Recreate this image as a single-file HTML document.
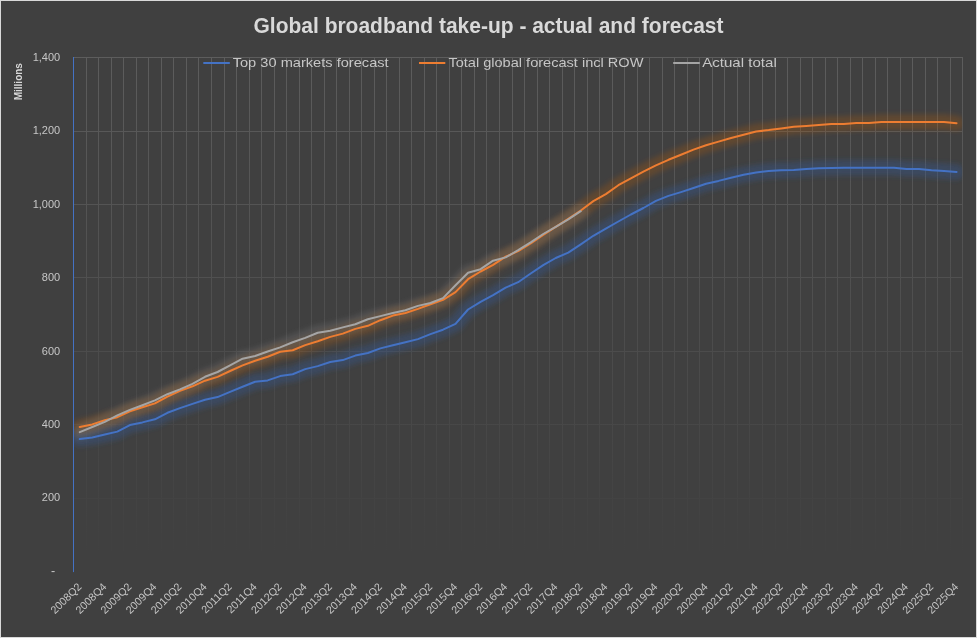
<!DOCTYPE html>
<html lang="en"><head><meta charset="utf-8"><title>Global broadband take-up - actual and forecast</title>
<style>html,body{margin:0;padding:0;background:#404040;overflow:hidden}svg{display:block}text{font-family:"Liberation Sans",sans-serif}</style></head><body>
<svg width="977" height="638" viewBox="0 0 977 638">
<defs>
<linearGradient id="gg" gradientUnits="userSpaceOnUse" x1="0" y1="57.0" x2="0" y2="559.5"><stop offset="0" stop-color="#fff" stop-opacity="0.15"/><stop offset="1" stop-color="#fff" stop-opacity="0"/></linearGradient>
<filter id="blur" x="-5%" y="-20%" width="110%" height="140%" filterUnits="objectBoundingBox"><feGaussianBlur stdDeviation="2.8"/></filter>
<clipPath id="plot"><rect x="74.0" y="37.5" width="888.3" height="534.0"/></clipPath>
</defs>
<rect width="977" height="638" fill="#404040"/>
<rect x="0.5" y="0.5" width="976" height="637" fill="none" stroke="#d9d9d9" stroke-width="1"/>
<path d="M86.5 57.0V571.5M98.5 57.0V571.5M111.5 57.0V571.5M123.5 57.0V571.5M136.5 57.0V571.5M148.5 57.0V571.5M161.5 57.0V571.5M173.5 57.0V571.5M186.5 57.0V571.5M198.5 57.0V571.5M211.5 57.0V571.5M224.5 57.0V571.5M236.5 57.0V571.5M249.5 57.0V571.5M261.5 57.0V571.5M274.5 57.0V571.5M286.5 57.0V571.5M299.5 57.0V571.5M311.5 57.0V571.5M324.5 57.0V571.5M336.5 57.0V571.5M349.5 57.0V571.5M361.5 57.0V571.5M374.5 57.0V571.5M386.5 57.0V571.5M399.5 57.0V571.5M411.5 57.0V571.5M424.5 57.0V571.5M436.5 57.0V571.5M449.5 57.0V571.5M461.5 57.0V571.5M474.5 57.0V571.5M486.5 57.0V571.5M499.5 57.0V571.5M512.5 57.0V571.5M524.5 57.0V571.5M537.5 57.0V571.5M549.5 57.0V571.5M562.5 57.0V571.5M574.5 57.0V571.5M587.5 57.0V571.5M599.5 57.0V571.5M612.5 57.0V571.5M624.5 57.0V571.5M637.5 57.0V571.5M649.5 57.0V571.5M662.5 57.0V571.5M674.5 57.0V571.5M687.5 57.0V571.5M699.5 57.0V571.5M712.5 57.0V571.5M724.5 57.0V571.5M737.5 57.0V571.5M749.5 57.0V571.5M762.5 57.0V571.5M775.5 57.0V571.5M787.5 57.0V571.5M800.5 57.0V571.5M812.5 57.0V571.5M825.5 57.0V571.5M837.5 57.0V571.5M850.5 57.0V571.5M862.5 57.0V571.5M875.5 57.0V571.5M887.5 57.0V571.5M900.5 57.0V571.5M912.5 57.0V571.5M925.5 57.0V571.5M937.5 57.0V571.5M950.5 57.0V571.5M962.5 57.0V571.5M74.0 57.5H963.0M74.0 131.5H963.0M74.0 204.5H963.0M74.0 277.5H963.0M74.0 351.5H963.0M74.0 424.5H963.0M74.0 498.5H963.0M74.0 571.5H963.0" stroke="url(#gg)" stroke-width="1" fill="none" shape-rendering="crispEdges"/>
<line x1="73.5" y1="57.0" x2="73.5" y2="572.1" stroke="#4472c4" stroke-width="1"/>
<g clip-path="url(#plot)" fill="none" stroke-linejoin="round" stroke-linecap="round">
<polyline points="79.76,439.00 92.29,437.40 104.81,434.60 117.34,431.60 129.86,425.10 142.39,422.40 154.92,419.30 167.44,412.80 179.97,408.10 192.49,403.90 205.02,399.80 217.54,397.10 230.07,391.80 242.59,386.80 255.12,381.80 267.65,380.40 280.17,376.10 292.70,374.20 305.22,369.10 317.75,366.10 330.27,362.00 342.80,360.10 355.32,355.60 367.85,353.00 380.37,348.40 392.90,345.30 405.43,342.20 417.95,339.10 430.48,334.10 443.00,329.70 455.53,323.90 468.05,309.50 480.58,301.80 493.10,295.10 505.63,287.70 518.16,282.20 530.68,273.50 543.21,265.20 555.73,258.00 568.26,252.60 580.78,244.40 593.31,235.80 605.83,228.70 618.36,221.50 630.88,214.50 643.41,208.00 655.94,200.90 668.46,195.90 680.99,192.10 693.51,188.00 706.04,183.70 718.56,180.90 731.09,177.80 743.61,174.80 756.14,172.60 768.67,170.90 781.19,170.20 793.72,170.05 806.24,169.05 818.77,168.20 831.29,167.90 843.82,167.80 856.34,167.80 868.87,167.80 881.39,167.80 893.92,167.80 906.45,169.05 918.97,169.05 931.50,170.20 944.02,171.05 956.55,171.90" stroke="#2f5597" stroke-width="15.5" stroke-opacity="0.36" filter="url(#blur)"/>
<polyline points="79.76,426.97 92.29,424.40 104.81,420.30 117.34,417.20 129.86,411.30 142.39,407.20 154.92,403.40 167.44,396.60 179.97,390.90 192.49,386.30 205.02,380.70 217.54,376.90 230.07,371.00 242.59,365.40 255.12,360.80 267.65,356.80 280.17,351.70 292.70,350.20 305.22,345.10 317.75,341.30 330.27,336.90 342.80,333.60 355.32,328.90 367.85,325.80 380.37,320.20 392.90,315.60 405.43,313.00 417.95,308.90 430.48,304.30 443.00,299.80 455.53,292.10 468.05,279.20 480.58,271.50 493.10,264.80 505.63,256.70 518.16,251.20 530.68,243.30 543.21,234.80 555.73,226.80 568.26,218.80 580.78,210.50 593.31,201.10 605.83,194.10 618.36,185.20 630.88,178.30 643.41,171.60 655.94,165.40 668.46,159.80 680.99,154.70 693.51,149.60 706.04,145.30 718.56,141.60 731.09,138.00 743.61,134.80 756.14,131.50 768.67,130.10 781.19,128.40 793.72,126.80 806.24,125.90 818.77,125.10 831.29,124.10 843.82,123.90 856.34,123.05 868.87,122.90 881.39,122.05 893.92,121.90 906.45,121.90 918.97,121.90 931.50,121.90 944.02,121.90 956.55,123.20" stroke="#c55a11" stroke-width="15.5" stroke-opacity="0.24" filter="url(#blur)"/>
<polyline points="79.76,432.10 92.29,427.00 104.81,421.80 117.34,415.40 129.86,409.90 142.39,405.30 154.92,400.40 167.44,394.20 179.97,389.40 192.49,383.80 205.02,376.80 217.54,372.00 230.07,365.40 242.59,358.70 255.12,356.00 267.65,351.50 280.17,347.40 292.70,342.30 305.22,337.90 317.75,332.80 330.27,330.70 342.80,327.40 355.32,324.30 367.85,319.20 380.37,316.10 392.90,313.00 405.43,310.30 417.95,305.90 430.48,303.00 443.00,298.10 455.53,285.30 468.05,272.70 480.58,269.20 493.10,260.70 505.63,257.40 518.16,250.20 530.68,242.30 543.21,234.00 555.73,226.80 568.26,219.40 580.78,211.20" stroke="#8a8a8a" stroke-width="15.5" stroke-opacity="0.24" filter="url(#blur)"/>
<polyline points="79.76,439.00 92.29,437.40 104.81,434.60 117.34,431.60 129.86,425.10 142.39,422.40 154.92,419.30 167.44,412.80 179.97,408.10 192.49,403.90 205.02,399.80 217.54,397.10 230.07,391.80 242.59,386.80 255.12,381.80 267.65,380.40 280.17,376.10 292.70,374.20 305.22,369.10 317.75,366.10 330.27,362.00 342.80,360.10 355.32,355.60 367.85,353.00 380.37,348.40 392.90,345.30 405.43,342.20 417.95,339.10 430.48,334.10 443.00,329.70 455.53,323.90 468.05,309.50 480.58,301.80 493.10,295.10 505.63,287.70 518.16,282.20 530.68,273.50 543.21,265.20 555.73,258.00 568.26,252.60 580.78,244.40 593.31,235.80 605.83,228.70 618.36,221.50 630.88,214.50 643.41,208.00 655.94,200.90 668.46,195.90 680.99,192.10 693.51,188.00 706.04,183.70 718.56,180.90 731.09,177.80 743.61,174.80 756.14,172.60 768.67,170.90 781.19,170.20 793.72,170.05 806.24,169.05 818.77,168.20 831.29,167.90 843.82,167.80 856.34,167.80 868.87,167.80 881.39,167.80 893.92,167.80 906.45,169.05 918.97,169.05 931.50,170.20 944.02,171.05 956.55,171.90" stroke="#4472c4" stroke-width="2"/>
<polyline points="79.76,426.97 92.29,424.40 104.81,420.30 117.34,417.20 129.86,411.30 142.39,407.20 154.92,403.40 167.44,396.60 179.97,390.90 192.49,386.30 205.02,380.70 217.54,376.90 230.07,371.00 242.59,365.40 255.12,360.80 267.65,356.80 280.17,351.70 292.70,350.20 305.22,345.10 317.75,341.30 330.27,336.90 342.80,333.60 355.32,328.90 367.85,325.80 380.37,320.20 392.90,315.60 405.43,313.00 417.95,308.90 430.48,304.30 443.00,299.80 455.53,292.10 468.05,279.20 480.58,271.50 493.10,264.80 505.63,256.70 518.16,251.20 530.68,243.30 543.21,234.80 555.73,226.80 568.26,218.80 580.78,210.50 593.31,201.10 605.83,194.10 618.36,185.20 630.88,178.30 643.41,171.60 655.94,165.40 668.46,159.80 680.99,154.70 693.51,149.60 706.04,145.30 718.56,141.60 731.09,138.00 743.61,134.80 756.14,131.50 768.67,130.10 781.19,128.40 793.72,126.80 806.24,125.90 818.77,125.10 831.29,124.10 843.82,123.90 856.34,123.05 868.87,122.90 881.39,122.05 893.92,121.90 906.45,121.90 918.97,121.90 931.50,121.90 944.02,121.90 956.55,123.20" stroke="#ed7d31" stroke-width="2"/>
<polyline points="79.76,432.10 92.29,427.00 104.81,421.80 117.34,415.40 129.86,409.90 142.39,405.30 154.92,400.40 167.44,394.20 179.97,389.40 192.49,383.80 205.02,376.80 217.54,372.00 230.07,365.40 242.59,358.70 255.12,356.00 267.65,351.50 280.17,347.40 292.70,342.30 305.22,337.90 317.75,332.80 330.27,330.70 342.80,327.40 355.32,324.30 367.85,319.20 380.37,316.10 392.90,313.00 405.43,310.30 417.95,305.90 430.48,303.00 443.00,298.10 455.53,285.30 468.05,272.70 480.58,269.20 493.10,260.70 505.63,257.40 518.16,250.20 530.68,242.30 543.21,234.00 555.73,226.80 568.26,219.40 580.78,211.20" stroke="#a5a5a5" stroke-width="2"/>
</g>
<text x="253.5" y="33" font-size="22" font-weight="bold" fill="#d9d9d9" textLength="470" lengthAdjust="spacingAndGlyphs">Global broadband take-up - actual and forecast</text>
<line x1="203.3" y1="63" x2="229.8" y2="63" stroke="#4472c4" stroke-width="2"/>
<text x="232.7" y="66.7" font-size="13.6" fill="#c6c6c6" textLength="156.0" lengthAdjust="spacingAndGlyphs">Top 30 markets forecast</text>
<line x1="419.0" y1="63" x2="445.3" y2="63" stroke="#ed7d31" stroke-width="2"/>
<text x="448.4" y="66.7" font-size="13.6" fill="#c6c6c6" textLength="195.0" lengthAdjust="spacingAndGlyphs">Total global forecast incl ROW</text>
<line x1="673.2" y1="63" x2="699.8" y2="63" stroke="#a5a5a5" stroke-width="2"/>
<text x="702.2" y="66.7" font-size="13.6" fill="#c6c6c6" textLength="74.6" lengthAdjust="spacingAndGlyphs">Actual total</text>
<text x="60.2" y="61.0" font-size="11" fill="#c6c6c6" text-anchor="end">1,400</text>
<text x="60.2" y="134.4" font-size="11" fill="#c6c6c6" text-anchor="end">1,200</text>
<text x="60.2" y="207.8" font-size="11" fill="#c6c6c6" text-anchor="end">1,000</text>
<text x="60.2" y="281.2" font-size="11" fill="#c6c6c6" text-anchor="end">800</text>
<text x="60.2" y="354.6" font-size="11" fill="#c6c6c6" text-anchor="end">600</text>
<text x="60.2" y="428.0" font-size="11" fill="#c6c6c6" text-anchor="end">400</text>
<text x="60.2" y="501.4" font-size="11" fill="#c6c6c6" text-anchor="end">200</text>
<text x="55.2" y="574.8" font-size="12.5" fill="#c6c6c6" text-anchor="end">-</text>
<text transform="translate(22.3,100.3) rotate(-90)" font-size="10.5" font-weight="bold" fill="#d9d9d9" textLength="37.2" lengthAdjust="spacingAndGlyphs">Millions</text>
<text transform="translate(82.16,587.40) rotate(-45)" font-size="10.8" fill="#c6c6c6" text-anchor="end">2008Q2</text>
<text transform="translate(107.21,587.40) rotate(-45)" font-size="10.8" fill="#c6c6c6" text-anchor="end">2008Q4</text>
<text transform="translate(132.26,587.40) rotate(-45)" font-size="10.8" fill="#c6c6c6" text-anchor="end">2009Q2</text>
<text transform="translate(157.32,587.40) rotate(-45)" font-size="10.8" fill="#c6c6c6" text-anchor="end">2009Q4</text>
<text transform="translate(182.37,587.40) rotate(-45)" font-size="10.8" fill="#c6c6c6" text-anchor="end">2010Q2</text>
<text transform="translate(207.42,587.40) rotate(-45)" font-size="10.8" fill="#c6c6c6" text-anchor="end">2010Q4</text>
<text transform="translate(232.47,587.40) rotate(-45)" font-size="10.8" fill="#c6c6c6" text-anchor="end">2011Q2</text>
<text transform="translate(257.52,587.40) rotate(-45)" font-size="10.8" fill="#c6c6c6" text-anchor="end">2011Q4</text>
<text transform="translate(282.57,587.40) rotate(-45)" font-size="10.8" fill="#c6c6c6" text-anchor="end">2012Q2</text>
<text transform="translate(307.62,587.40) rotate(-45)" font-size="10.8" fill="#c6c6c6" text-anchor="end">2012Q4</text>
<text transform="translate(332.67,587.40) rotate(-45)" font-size="10.8" fill="#c6c6c6" text-anchor="end">2013Q2</text>
<text transform="translate(357.72,587.40) rotate(-45)" font-size="10.8" fill="#c6c6c6" text-anchor="end">2013Q4</text>
<text transform="translate(382.77,587.40) rotate(-45)" font-size="10.8" fill="#c6c6c6" text-anchor="end">2014Q2</text>
<text transform="translate(407.83,587.40) rotate(-45)" font-size="10.8" fill="#c6c6c6" text-anchor="end">2014Q4</text>
<text transform="translate(432.88,587.40) rotate(-45)" font-size="10.8" fill="#c6c6c6" text-anchor="end">2015Q2</text>
<text transform="translate(457.93,587.40) rotate(-45)" font-size="10.8" fill="#c6c6c6" text-anchor="end">2015Q4</text>
<text transform="translate(482.98,587.40) rotate(-45)" font-size="10.8" fill="#c6c6c6" text-anchor="end">2016Q2</text>
<text transform="translate(508.03,587.40) rotate(-45)" font-size="10.8" fill="#c6c6c6" text-anchor="end">2016Q4</text>
<text transform="translate(533.08,587.40) rotate(-45)" font-size="10.8" fill="#c6c6c6" text-anchor="end">2017Q2</text>
<text transform="translate(558.13,587.40) rotate(-45)" font-size="10.8" fill="#c6c6c6" text-anchor="end">2017Q4</text>
<text transform="translate(583.18,587.40) rotate(-45)" font-size="10.8" fill="#c6c6c6" text-anchor="end">2018Q2</text>
<text transform="translate(608.23,587.40) rotate(-45)" font-size="10.8" fill="#c6c6c6" text-anchor="end">2018Q4</text>
<text transform="translate(633.28,587.40) rotate(-45)" font-size="10.8" fill="#c6c6c6" text-anchor="end">2019Q2</text>
<text transform="translate(658.34,587.40) rotate(-45)" font-size="10.8" fill="#c6c6c6" text-anchor="end">2019Q4</text>
<text transform="translate(683.39,587.40) rotate(-45)" font-size="10.8" fill="#c6c6c6" text-anchor="end">2020Q2</text>
<text transform="translate(708.44,587.40) rotate(-45)" font-size="10.8" fill="#c6c6c6" text-anchor="end">2020Q4</text>
<text transform="translate(733.49,587.40) rotate(-45)" font-size="10.8" fill="#c6c6c6" text-anchor="end">2021Q2</text>
<text transform="translate(758.54,587.40) rotate(-45)" font-size="10.8" fill="#c6c6c6" text-anchor="end">2021Q4</text>
<text transform="translate(783.59,587.40) rotate(-45)" font-size="10.8" fill="#c6c6c6" text-anchor="end">2022Q2</text>
<text transform="translate(808.64,587.40) rotate(-45)" font-size="10.8" fill="#c6c6c6" text-anchor="end">2022Q4</text>
<text transform="translate(833.69,587.40) rotate(-45)" font-size="10.8" fill="#c6c6c6" text-anchor="end">2023Q2</text>
<text transform="translate(858.74,587.40) rotate(-45)" font-size="10.8" fill="#c6c6c6" text-anchor="end">2023Q4</text>
<text transform="translate(883.79,587.40) rotate(-45)" font-size="10.8" fill="#c6c6c6" text-anchor="end">2024Q2</text>
<text transform="translate(908.85,587.40) rotate(-45)" font-size="10.8" fill="#c6c6c6" text-anchor="end">2024Q4</text>
<text transform="translate(933.90,587.40) rotate(-45)" font-size="10.8" fill="#c6c6c6" text-anchor="end">2025Q2</text>
<text transform="translate(958.95,587.40) rotate(-45)" font-size="10.8" fill="#c6c6c6" text-anchor="end">2025Q4</text>
</svg></body></html>
